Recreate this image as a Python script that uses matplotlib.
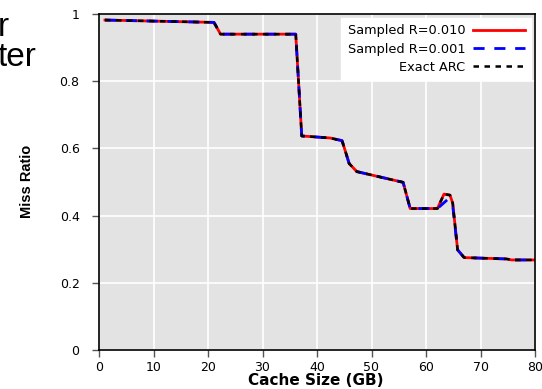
import numpy as np
import matplotlib
matplotlib.use('Agg')
import matplotlib.pyplot as plt

plt.rcParams['font.family'] = ['DejaVu Sans']

# curve (cache size in GB, miss ratio)
size_r010 = [1.1, 21.1, 22.3, 36.1, 37.2, 42.4, 44.6, 45.9, 47.3, 55.8, 57.1,
             62.1, 63.3, 64.4, 64.9, 65.8, 67.0, 74.8, 75.7, 80.0]
miss_r010 = [0.982, 0.975, 0.940, 0.940, 0.637, 0.631, 0.623, 0.555, 0.531, 0.499,
             0.421, 0.421, 0.464, 0.461, 0.437, 0.298, 0.275, 0.271, 0.268, 0.268]
size_r001 = [1.1, 21.1, 22.3, 36.1, 37.2, 42.4, 44.6, 45.9, 47.3, 55.8, 57.1,
             62.1, 63.9, 64.9, 65.8, 67.0, 74.8, 75.7, 80.0]
miss_r001 = [0.982, 0.975, 0.940, 0.940, 0.637, 0.631, 0.623, 0.555, 0.531, 0.499,
             0.421, 0.421, 0.447, 0.430, 0.298, 0.275, 0.271, 0.268, 0.268]
size_exact = size_r010
miss_exact = miss_r010

xticks = [0, 10, 20, 30, 40, 50, 60, 70, 80]
yticks = [0, 0.2, 0.4, 0.6, 0.8, 1.0]
ytick_labels = ['0', '0.2', '0.4', '0.6', '0.8', '1']

fig = plt.figure(figsize=(5.42, 3.89), dpi=100)
ax = fig.add_axes([99/542, 1-350/389, 436/542, 336/389])
ax.set_facecolor('#e3e3e3')

ax.plot(size_r010, miss_r010, color='#ff0000', lw=2, label='Sampled R=0.010')
ax.plot(size_r001, miss_r001, color='#0000ff', lw=2, dashes=(4, 3.5), label='Sampled R=0.001')
ax.plot(size_exact, miss_exact, color='black', lw=1.8, dashes=(2.2, 2.2), label='Exact ARC')

ax.set_xlim(0, 80)
ax.set_ylim(0, 1)
ax.set_xticks(xticks)
ax.set_yticks(yticks)
ax.set_yticklabels(ytick_labels)
ax.grid(True, color='white', lw=1.2)
ax.set_axisbelow(True)
ax.tick_params(direction='out', length=5, width=1, color='#555555', labelsize=9, pad=9)
ax.tick_params(axis='x', pad=3)
for s in ax.spines.values():
    s.set_linewidth(1.2)
    s.set_color('black')

fig.text(316/542, 4/389, 'Cache Size (GB)', fontsize=11, fontweight='bold',
         ha='center', va='baseline')
fig.text(27/542, 1-181/389, 'Miss Ratio', rotation=90, fontsize=10.5,
         fontweight='bold', ha='center', va='center', family='Liberation Sans')

leg = ax.legend(loc='upper right', markerfirst=False, fontsize=9.3, frameon=True,
                fancybox=False, edgecolor='white', framealpha=1, handlelength=4.0,
                borderaxespad=0.3, labelspacing=0.4, handletextpad=0.6,
                borderpad=0.5)
for t in leg.get_texts():
    t.set_ha('right')

# slide text cut off at the left edge
fig.text(-0.005, 1-28/389, 'r', fontsize=24, va='center', ha='left', family='Liberation Sans')
fig.text(-0.005, 1-58/389, 'ter', fontsize=24, va='center', ha='left', family='Liberation Sans')

fig.savefig('out.png', dpi=100)
